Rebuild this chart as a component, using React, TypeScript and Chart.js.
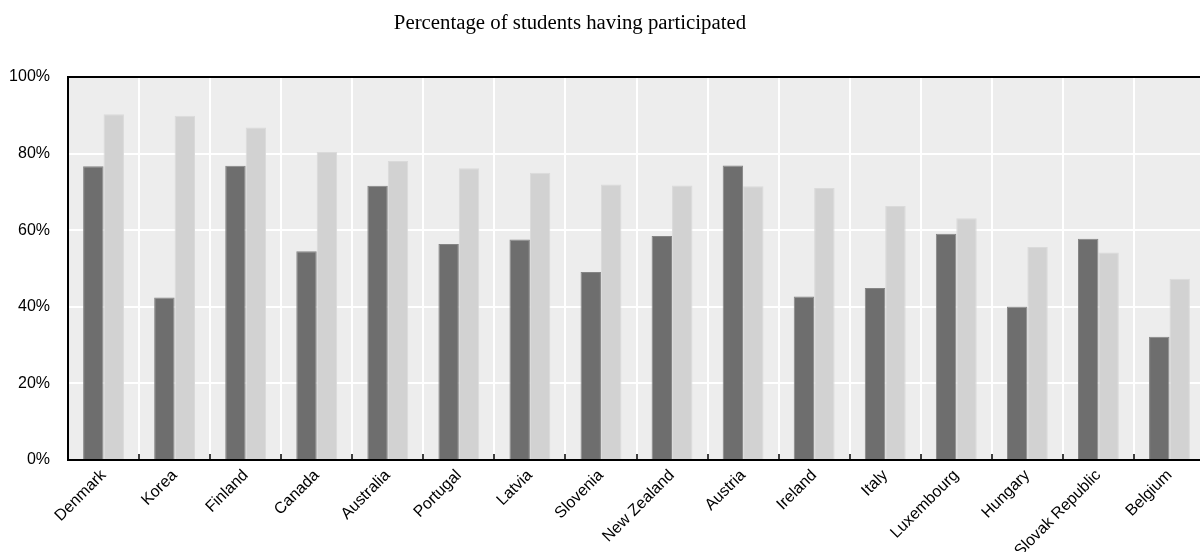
import React, { useEffect, useRef } from "react";
import { Chart, registerables } from "chart.js";

Chart.register(...registerables);

const TITLE = "Percentage of students having participated";

const countries = [
  "Denmark", "Korea", "Finland", "Canada", "Australia", "Portugal", "Latvia", "Slovenia",
  "New Zealand", "Austria", "Ireland", "Italy", "Luxembourg", "Hungary", "Slovak Republic", "Belgium",
];

const darkSeries = [76.7, 42.4, 76.8, 54.5, 71.6, 56.4, 57.6, 49.1, 58.5, 76.9, 42.7, 44.9, 59.1, 40.1, 57.8, 32.2];
const lightSeries = [90.3, 89.9, 86.8, 80.4, 78.1, 76.2, 75.0, 71.9, 71.7, 71.5, 71.0, 66.3, 63.1, 55.6, 54.2, 47.3];

const yTicks = [0, 20, 40, 60, 80, 100];

const plotBg = {
  id: "plotBg",
  beforeDraw(chart: any) {
    const { ctx, chartArea } = chart;
    ctx.save();
    ctx.fillStyle = "#ededed";
    ctx.fillRect(chartArea.left, chartArea.top, chartArea.right - chartArea.left, chartArea.bottom - chartArea.top);
    ctx.restore();
  },
  afterDraw(chart: any) {
    const { ctx, chartArea } = chart;
    ctx.save();
    ctx.strokeStyle = "#000";
    ctx.lineWidth = 2;
    ctx.beginPath();
    ctx.moveTo(chartArea.left - 1, chartArea.top);
    ctx.lineTo(chartArea.right, chartArea.top);
    ctx.stroke();
    ctx.restore();
  },
};

export default function App() {
  const ref = useRef<HTMLCanvasElement>(null);
  useEffect(() => {
    if (!ref.current) return;
    Chart.defaults.font.family = "'Liberation Sans', Arial, sans-serif";
    const chart = new Chart(ref.current, {
      type: "bar",
      data: {
        labels: countries,
        datasets: [
          {
            label: "Series 1",
            data: darkSeries,
            backgroundColor: "#6e6e6e",
            borderColor: "#858585",
            borderWidth: 1,
            barPercentage: 1,
            categoryPercentage: 0.575,
          },
          {
            label: "Series 2",
            data: lightSeries,
            backgroundColor: "#d2d2d2",
            borderColor: "#dadada",
            borderWidth: 1,
            barPercentage: 1,
            categoryPercentage: 0.575,
          },
        ],
      },
      options: {
        animation: false,
        responsive: false,
        layout: { padding: { top: 77, right: 5, bottom: 0, left: 0 } },
        plugins: {
          legend: { display: false },
          title: { display: false },
          tooltip: { enabled: false },
        },
        scales: {
          x: {
            grid: {
              color: "#ffffff",
              lineWidth: 2,
              tickColor: "#000000",
              tickLength: -6,
              tickWidth: 1.5,
              offset: true,
            },
            border: { color: "#000000", width: 2 },
            ticks: {
              autoSkip: false,
              maxRotation: 45,
              minRotation: 45,
              padding: 12,
              color: "#000000",
              font: { size: 16 },
            },
            afterFit(scale: any) {
              scale.height = 92;
            },
          },
          y: {
            min: 0,
            max: 100,
            afterBuildTicks(scale: any) {
              scale.ticks = yTicks.map((v) => ({ value: v }));
            },
            grid: { color: "#ffffff", lineWidth: 2, drawTicks: false },
            border: { color: "#000000", width: 2 },
            ticks: {
              padding: 18,
              color: "#000000",
              font: { size: 16 },
              callback: (v: any) => v + "%",
            },
            afterFit(scale: any) {
              scale.width = 68;
            },
          },
        },
      },
      plugins: [plotBg],
    });
    return () => chart.destroy();
  }, []);

  return (
    <div style={{ position: "fixed", left: 0, top: 0, width: 1200, height: 552, overflow: "hidden", background: "#fff" }}>
      <div
        style={{
          position: "absolute",
          left: 0,
          top: 12,
          width: 1140,
          textAlign: "center",
          fontFamily: "'Liberation Serif', 'Times New Roman', serif",
          fontSize: 20.8,
          lineHeight: "19px",
          color: "#000",
        }}
      >
        {TITLE}
      </div>
      <canvas ref={ref} width={1210} height={552} style={{ display: "block", width: 1210, height: 552 }} />
    </div>
  );
}
